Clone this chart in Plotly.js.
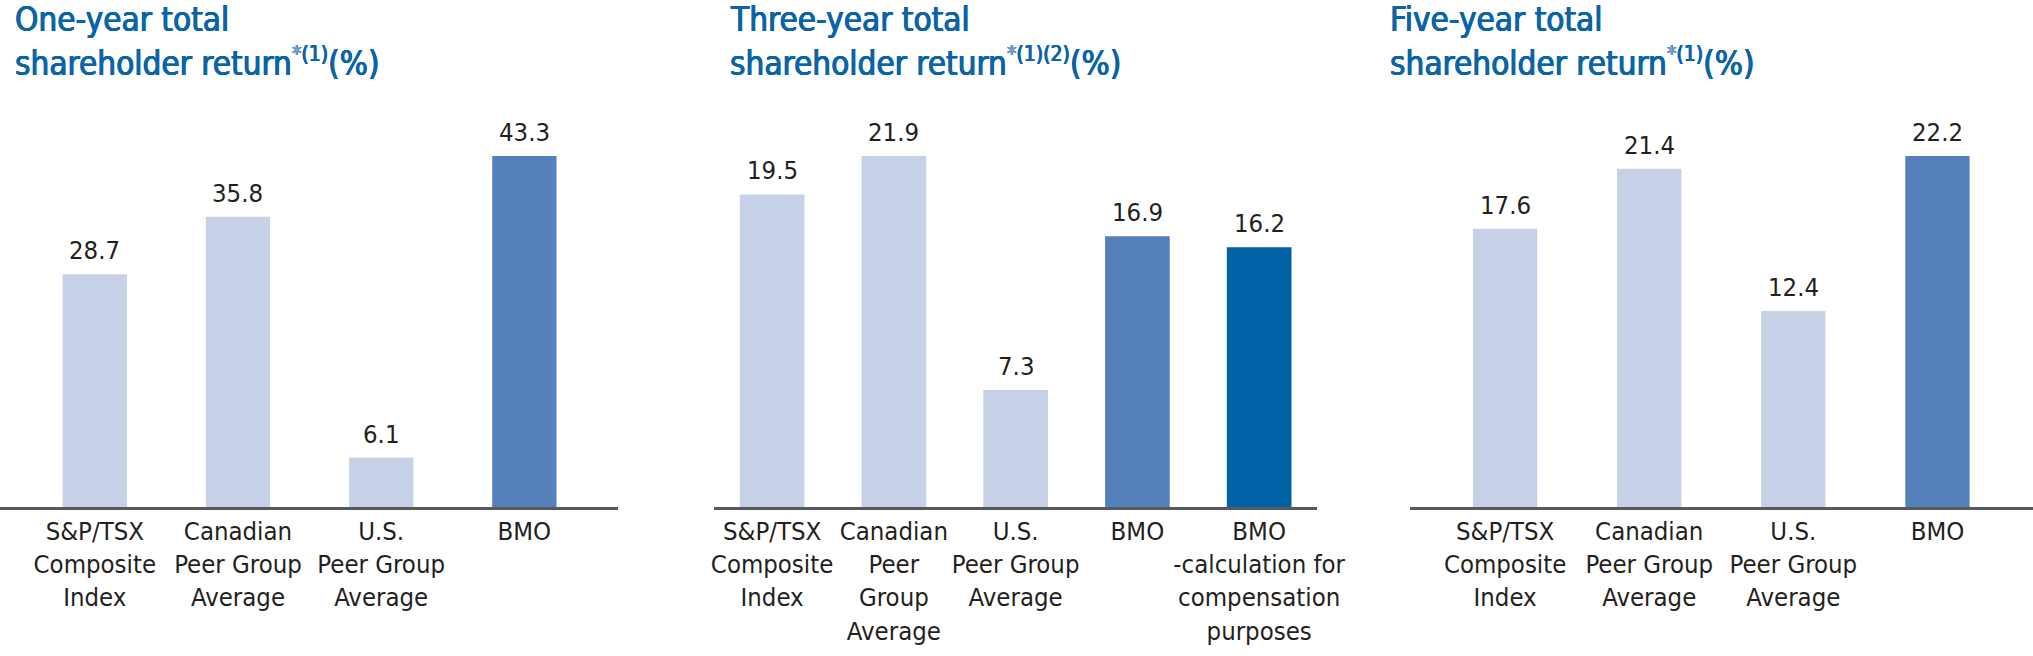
<!DOCTYPE html>
<html>
<head>
<meta charset="utf-8">
<script src="https://cdn.plot.ly/plotly-3.0.1.min.js"></script>
<style>
html,body{margin:0;padding:0;background:#fff;}
#chart{width:2033px;height:656px;}
</style>
</head>
<body>
<div id="chart"></div>
<script>
// ---- data ----
const categories1 = ["S&P/TSX Composite Index", "Canadian Peer Group Average", "U.S. Peer Group Average", "BMO"];
const tickLabels1 = ["S&P/TSX<br>Composite<br>Index", "Canadian<br>Peer Group<br>Average", "U.S.<br>Peer Group<br>Average", "BMO"];
const values1 = [28.7, 35.8, 6.1, 43.3];

const categories2 = ["S&P/TSX Composite Index", "Canadian Peer Group Average", "U.S. Peer Group Average", "BMO", "BMO - calculation for compensation purposes"];
const tickLabels2 = ["S&P/TSX<br>Composite<br>Index", "Canadian<br>Peer<br>Group<br>Average", "U.S.<br>Peer Group<br>Average", "BMO", "BMO<br>-calculation for<br>compensation<br>purposes"];
const values2 = [19.5, 21.9, 7.3, 16.9, 16.2];

const categories3 = ["S&P/TSX Composite Index", "Canadian Peer Group Average", "U.S. Peer Group Average", "BMO"];
const tickLabels3 = ["S&P/TSX<br>Composite<br>Index", "Canadian<br>Peer Group<br>Average", "U.S.<br>Peer Group<br>Average", "BMO"];
const values3 = [17.6, 21.4, 12.4, 22.2];

const titleMain1 = ["One-year total", "shareholder return"];
const titleMain2 = ["Three-year total", "shareholder return"];
const titleMain3 = ["Five-year total", "shareholder return"];
const titleNotes1 = "(1)";
const titleNotes2 = "(1)(2)";
const titleNotes3 = "(1)";

// ---- styles ----
const LIGHT = "#C6D1E7", MID = "#5480BB", DARK = "#0061A6";
const colors1 = [LIGHT, LIGHT, LIGHT, MID];
const colors2 = [LIGHT, LIGHT, LIGHT, MID, DARK];
const colors3 = [LIGHT, LIGHT, LIGHT, MID];

const FONT = "'DejaVu Sans Condensed', 'Liberation Sans Narrow', sans-serif";
const TCOL = "#0A64A6";
const LBL = 25.5;
const W = 2033, H = 656;
const axisY = 507;      // pixel y of baseline
const topBar = 156;     // pixel y of tallest bar
const yDomain = [(H - axisY) / H, 1];

const charts = [
  {cats: categories1, ticks: tickLabels1, vals: values1, cols: colors1, title: titleMain1, notes: titleNotes1,
   domain: [0 / W, 618 / W], range: [-0.662, 3.654], width: 0.449, titleX: 15},
  {cats: categories2, ticks: tickLabels2, vals: values2, cols: colors2, title: titleMain2, notes: titleNotes2,
   domain: [714 / W, 1317 / W], range: [-0.477, 4.475], width: 0.531, titleX: 730},
  {cats: categories3, ticks: tickLabels3, vals: values3, cols: colors3, title: titleMain3, notes: titleNotes3,
   domain: [1410 / W, 1], range: [-0.66, 3.663], width: 0.446, titleX: 1390}
];

const data = [];
const layout = {
  width: W, height: H,
  margin: {l: 0, r: 0, t: 0, b: 0},
  paper_bgcolor: "#fff", plot_bgcolor: "#fff",
  showlegend: false,
  font: {family: FONT, size: LBL, color: "#231F20"},
  annotations: []
};

charts.forEach((c, i) => {
  const n = i + 1;
  const xa = n === 1 ? "x" : "x" + n;
  const ya = n === 1 ? "y" : "y" + n;
  data.push({
    type: "bar", x: c.cats, y: c.vals, xaxis: xa, yaxis: ya,
    marker: {color: c.cols, line: {width: 0}},
    width: c.width, hoverinfo: "skip"
  });
  const maxV = Math.max(...c.vals);
  layout["xaxis" + (n === 1 ? "" : n)] = {
    domain: c.domain, anchor: ya, type: "category", range: c.range,
    showline: true, linecolor: "#58595B", linewidth: 2.5,
    showgrid: false, zeroline: false, ticks: "", tickangle: 0,
    tickvals: c.cats, ticktext: c.ticks,
    tickfont: {family: FONT, size: LBL, color: "#231F20"},
    fixedrange: true
  };
  layout["yaxis" + (n === 1 ? "" : n)] = {
    domain: yDomain, anchor: xa,
    range: [0, maxV * (axisY / (axisY - topBar))],
    visible: false, fixedrange: true
  };
  c.vals.forEach((v, j) => {
    layout.annotations.push({
      x: c.cats[j], y: v, xref: xa, yref: ya,
      text: v.toFixed(1), showarrow: false,
      xanchor: "center", yanchor: "bottom", yshift: 7,
      font: {family: FONT, size: LBL, color: "#231F20"}
    });
  });
  const lines = [
    c.title[0],
    c.title[1] + "<sup><span style='font-size:21px'><span style='color:#8CAAD4'>*</span>" + c.notes + "</span></sup>(%)"
  ];
  lines.forEach((line, k) => {
    layout.annotations.push({
      x: c.titleX / W, y: 1, xref: "paper", yref: "paper",
      text: line, showarrow: false, xanchor: "left", yanchor: "top",
      yshift: k === 0 ? 2 : -40, xshift: -2,
      font: {family: FONT, size: 33, color: TCOL,
             shadow: "0.6px 0 0 " + TCOL + ", -0.4px 0 0 " + TCOL + ", 0 0.4px 0 " + TCOL}
    });
  });
});

Plotly.newPlot("chart", data, layout, {displayModeBar: false, staticPlot: true});
</script>
</body>
</html>
